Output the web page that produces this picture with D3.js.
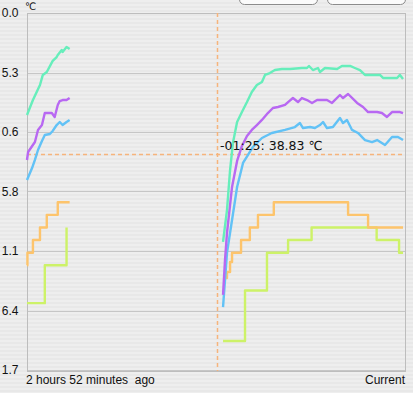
<!DOCTYPE html>
<html>
<head>
<meta charset="utf-8">
<script src="https://cdn.jsdelivr.net/npm/d3@7/dist/d3.min.js"></script>
<style>
body { margin: 0; background: #ececec; overflow: hidden; }
</style>
</head>
<body>
<div id="chart"></div>
<script>
// time span shown (minutes before "Current") and temperature axis
var minutesAgo = 172;
var tempTop = 50.0, tempBottom = 21.7;
// tick labels as they appear in the (cropped) window
var tickLabels = ["0.0", "5.3", "0.6", "5.8", "1.1", "6.4", "1.7"];
var leftLabel = "2 hours 52 minutes  ago";
var rightLabel = "Current";
var unitLabel = "℃";

// cursor
var cursorMinute = -85.6;
var cursorTemp = 38.83;
var cursorText = "-01:25: 38.83 ℃";

// [minute, ℃] — first block (older) of readings
var greenA = [[-172,41.91],[-169.3,43.10],[-166.1,44.29],[-164.8,45.09],[-163,45.32],[-160.3,46.20],[-158.5,46.51],[-158,46.67],[-156.2,47.07],[-155.8,46.91],[-154,47.30],[-152.6,47.15]];
var purpleA = [[-172,38.35],[-171.5,38.98],[-168.4,39.77],[-167,40.73],[-165.2,41.12],[-163.9,42.07],[-160.7,42.07],[-159.4,41.76],[-158,42.71],[-157.1,43.02],[-155.8,43.10],[-154,43.10],[-152.6,43.26]];
var blueA = [[-172,36.76],[-169.7,37.71],[-168.4,38.35],[-167,39.14],[-165.2,39.85],[-163.9,40.33],[-161.6,40.41],[-160.3,40.65],[-158.5,41.12],[-157.1,41.36],[-155.8,41.12],[-154,41.36],[-152.6,41.52]];
var orangeA = [[-172,30],[-171.8,31],[-169.3,32],[-166.1,33],[-163,34],[-158,35],[-152.6,35]];
var limeA = [[-172,27],[-163.9,30],[-154,33]];

// second block (recent) of readings
var greenB = [[-82.8,31.85],[-81,34.38],[-79.6,37.55],[-78.3,39.69],[-76.4,41.36],[-74.2,42.15],[-71.9,42.94],[-69.7,43.74],[-67.4,44.29],[-65.1,44.53],[-63.7,45.09],[-61.5,45.24],[-59.2,45.48],[-56,45.56],[-52.3,45.56],[-46.9,45.64],[-44.6,45.64],[-43.7,45.80],[-41.9,45.48],[-39.6,45.64],[-38.7,45.32],[-36.4,45.64],[-30.9,45.56],[-28.7,45.80],[-25,45.80],[-22.8,45.64],[-20.5,45.48],[-18.2,45.09],[-11.4,45.09],[-10,44.85],[-3.6,44.85],[-2.3,45.09],[-0.9,44.77]];
var purpleB = [[-82.8,27.65],[-81.9,30.42],[-81,32.56],[-78.7,36.21],[-76.4,38.27],[-74.2,39.46],[-71.9,40.25],[-69.7,40.73],[-67.4,41.12],[-65.1,41.52],[-62.4,42.07],[-60.1,42.47],[-57.8,42.55],[-54.6,42.71],[-53.2,42.94],[-51,43.26],[-48.7,42.94],[-46.9,43.26],[-44.6,43.10],[-42.3,42.87],[-40,43.10],[-35.5,43.10],[-33.2,42.87],[-29.6,43.50],[-28.2,43.26],[-25.9,43.58],[-21.8,42.87],[-19.1,42.55],[-16.8,42.15],[-12.7,42.15],[-10.5,42.07],[-8.2,41.76],[-5.9,42.15],[-2.3,42.15],[-0.9,42.07]];
var blueB = [[-82.8,26.69],[-81.9,28.83],[-81,30.98],[-78.7,33.59],[-76.4,36.21],[-73.7,38.11],[-71.5,38.74],[-69.2,39.38],[-68.3,39.54],[-65.1,40.09],[-60.6,40.49],[-54.6,40.73],[-50.1,40.96],[-47.8,41.28],[-46.4,40.88],[-43.2,40.96],[-41,40.88],[-38.7,41.12],[-37.3,41.36],[-35.5,40.88],[-32.8,40.96],[-29.6,41.68],[-28.2,41.28],[-26.4,41.52],[-24.1,40.73],[-21.4,40.49],[-18.2,39.93],[-15,39.77],[-12.7,39.93],[-9.1,39.54],[-5.9,40.17],[-3.2,40.17],[-0.9,39.93]];
var orangeB = [[-81.9,28.99],[-81,29.47],[-79.6,30.26],[-78.7,31],[-74.6,32],[-70.6,33],[-66.9,34],[-59.7,35],[-25.9,34],[-16.8,33],[-0.9,33]];
var limeB = [[-82.8,24],[-72.8,28],[-62.8,31],[-53.2,32],[-42.5,33],[-12.9,32],[-2.7,31],[-0.9,31]];

var width = 413, height = 393;
var plot = { left: 27, right: 405, top: 13, bottom: 370 };

var svg = d3.select("#chart").append("svg")
    .attr("width", width)
    .attr("height", height);

// pinstripe background
var defs = svg.append("defs");
var pat = defs.append("pattern")
    .attr("id", "stripes")
    .attr("width", 4).attr("height", 4)
    .attr("patternUnits", "userSpaceOnUse");
pat.append("rect").attr("width", 4).attr("height", 4).attr("fill", "#eeeeee");
pat.append("rect").attr("y", 2).attr("width", 4).attr("height", 2).attr("fill", "#e8e8e8");
svg.append("rect").attr("width", width).attr("height", height).attr("fill", "url(#stripes)");

// toolbar buttons peeking in at the top
[[239, 317], [327, 405]].forEach(function (b) {
    svg.append("rect")
        .attr("x", b[0] + 0.5).attr("y", -16)
        .attr("width", b[1] - b[0]).attr("height", 20.5)
        .attr("rx", 5)
        .attr("fill", "#fbfbfb")
        .attr("stroke", "#8c8c8c");
});

var x = d3.scaleLinear().domain([-minutesAgo, 0]).range([plot.left, plot.right]);
var y = d3.scaleLinear().domain([tempBottom, tempTop]).range([plot.bottom, plot.top]);

var tickValues = tickLabels.map(function (d, i) {
    return tempTop - i * (tempTop - tempBottom) / (tickLabels.length - 1);
});

// gridlines
svg.append("g")
    .selectAll("line")
    .data(tickValues)
    .enter().append("line")
    .attr("x1", plot.left).attr("x2", plot.right)
    .attr("y1", function (d) { return Math.round(y(d)) + 0.5; })
    .attr("y2", function (d) { return Math.round(y(d)) + 0.5; })
    .attr("stroke", "#c6c6c6");

// frame
svg.append("rect")
    .attr("x", plot.left + 0.5).attr("y", plot.top + 0.5)
    .attr("width", plot.right - plot.left).attr("height", plot.bottom - plot.top + 1)
    .attr("fill", "none")
    .attr("stroke", "#bdbdbd");

// y axis labels
var yAxis = d3.axisLeft(y)
    .tickValues(tickValues)
    .tickFormat(function (d, i) { return tickLabels[i]; })
    .tickSize(0)
    .tickPadding(8.5);
var gy = svg.append("g")
    .attr("transform", "translate(" + plot.left + ",0)")
    .call(yAxis);
gy.select(".domain").remove();
gy.selectAll("text")
    .attr("font-family", "'Liberation Sans', Arial, sans-serif")
    .attr("font-size", 12)
    .attr("fill", "#111");

svg.append("text")
    .attr("x", 25).attr("y", 10)
    .attr("font-family", "'DejaVu Sans', sans-serif")
    .attr("font-size", 10)
    .attr("fill", "#111")
    .text(unitLabel);

// x labels
svg.append("text")
    .attr("x", 26).attr("y", 383.5)
    .attr("xml:space", "preserve")
    .style("white-space", "pre")
    .attr("font-family", "'Liberation Sans', Arial, sans-serif")
    .attr("font-size", 12)
    .attr("fill", "#111")
    .text(leftLabel);
svg.append("text")
    .attr("x", 405).attr("y", 383.5)
    .attr("text-anchor", "end")
    .attr("font-family", "'Liberation Sans', Arial, sans-serif")
    .attr("font-size", 12)
    .attr("fill", "#111")
    .text(rightLabel);

// cursor lines
var cx = Math.round(x(cursorMinute)) + 0.5;
var cy = Math.round(y(cursorTemp)) + 0.5;
svg.append("line")
    .attr("x1", cx).attr("x2", cx)
    .attr("y1", plot.top).attr("y2", plot.bottom + 1)
    .attr("stroke", "#f6b47c").attr("stroke-width", 1.5)
    .attr("stroke-dasharray", "4,3");
svg.append("line")
    .attr("x1", plot.left).attr("x2", plot.right)
    .attr("y1", cy).attr("y2", cy)
    .attr("stroke", "#f6b47c").attr("stroke-width", 1.5)
    .attr("stroke-dasharray", "4,3");

// series
var series = [
    { data: [limeA, limeB], color: "#cdf268", step: true },
    { data: [orangeA, orangeB], color: "#fdc46c", step: true },
    { data: [blueA, blueB], color: "#62c2f6", step: false },
    { data: [purpleA, purpleB], color: "#b868f2", step: false },
    { data: [greenA, greenB], color: "#66eebb", step: false }
];

series.forEach(function (s) {
    var line = d3.line()
        .x(function (d) { return x(d[0]); })
        .y(function (d) { return y(d[1]); })
        .curve(s.step ? d3.curveStepAfter : d3.curveLinear);
    s.data.forEach(function (seg) {
        svg.append("path")
            .datum(seg)
            .attr("d", line)
            .attr("fill", "none")
            .attr("stroke", s.color)
            .attr("stroke-width", 2.4)
            .attr("stroke-linejoin", "round");
    });
});

// cursor readout
svg.append("text")
    .attr("x", 220).attr("y", 149.5)
    .attr("font-family", "'DejaVu Sans', sans-serif")
    .attr("font-size", 12.5)
    .attr("fill", "#111")
    .text(cursorText);
</script>
</body>
</html>
